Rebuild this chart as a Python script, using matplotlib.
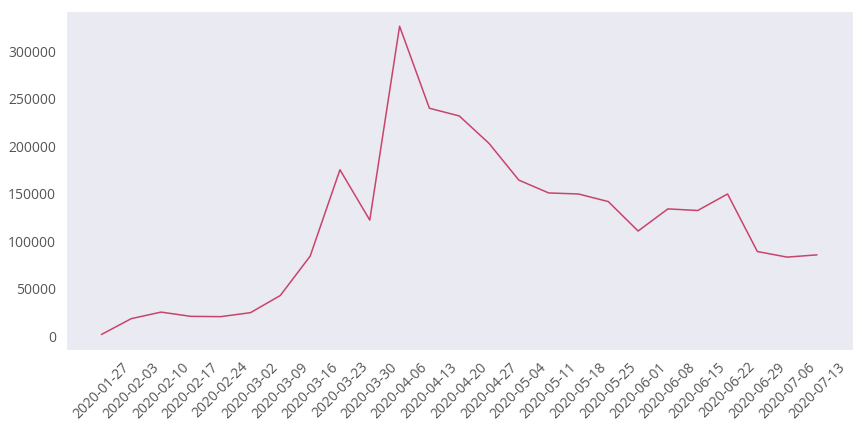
import matplotlib
matplotlib.use("Agg")
import matplotlib.pyplot as plt
import seaborn as sns

# weekly values
semanas = ["2020-01-27", "2020-02-03", "2020-02-10", "2020-02-17", "2020-02-24",
           "2020-03-02", "2020-03-09", "2020-03-16", "2020-03-23", "2020-03-30",
           "2020-04-06", "2020-04-13", "2020-04-20", "2020-04-27", "2020-05-04",
           "2020-05-11", "2020-05-18", "2020-05-25", "2020-06-01", "2020-06-08",
           "2020-06-15", "2020-06-22", "2020-06-29", "2020-07-06", "2020-07-13"]
valores = [1800, 18500, 25400, 20900, 20600,
           24800, 42900, 84300, 175300, 122300,
           326500, 240100, 232000, 203100, 164400,
           150900, 149800, 141800, 110800, 134100,
           132400, 149800, 89200, 83300, 85700]

sns.set_style("dark")
plt.rcParams['font.family'] = ['Open Sans', 'DejaVu Sans']

fig, ax = plt.subplots(figsize=(8.64, 4.32), dpi=100)
ax.plot(semanas, valores, color="#c9446a", linewidth=1.1)

ax.tick_params(axis='both', labelsize=10, colors='#555555', labelcolor='#555555')
plt.xticks(rotation=45)
for lbl in ax.get_xticklabels():
    lbl.set_ha('center')

fig.subplots_adjust(left=0.076, right=0.987, top=0.975, bottom=0.19)
fig.savefig("out.png", dpi=100)
